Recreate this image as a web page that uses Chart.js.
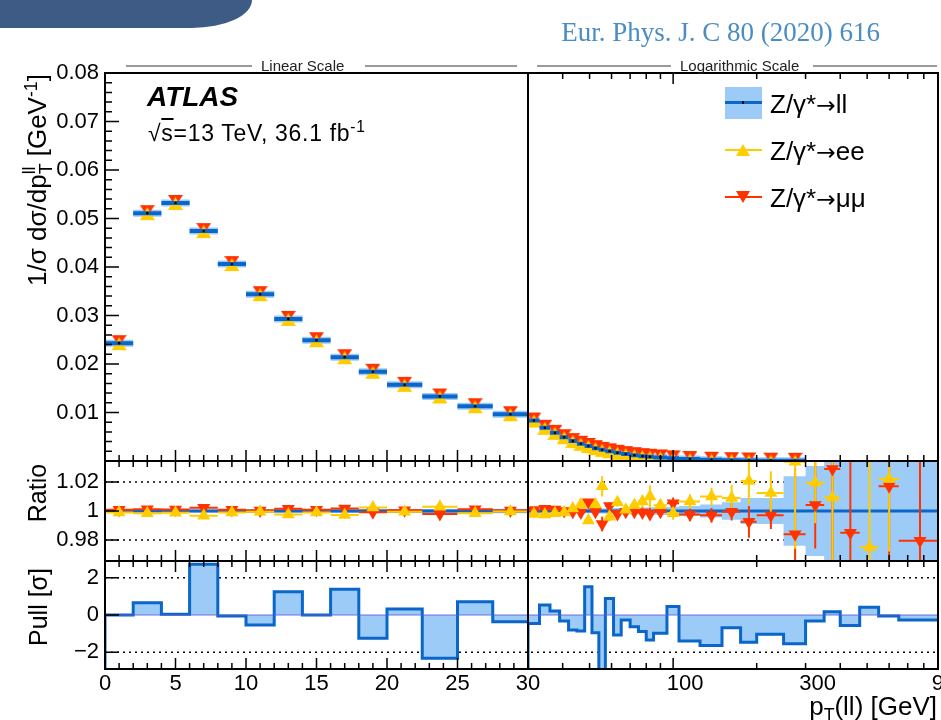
<!DOCTYPE html>
<html lang="en">
<head>
<meta charset="utf-8">
<title>Z/γ* → ll transverse momentum</title>
<script src="https://cdn.jsdelivr.net/npm/chart.js@4.4.1/dist/chart.umd.min.js"></script>
<style>
  html, body { margin: 0; padding: 0; background: #fff; }
  body { position: relative; width: 941px; height: 720px; overflow: hidden;
         font-family: "Liberation Sans", Arial, Helvetica, sans-serif; color: #000; }
  #plot { position: absolute; left: 0; top: 0; width: 941px; height: 720px; }
  .abs { position: absolute; white-space: nowrap; line-height: 1; }
  .swoosh { position: absolute; left: 0; top: 0; width: 252px; height: 28px; background: #3d5b85;
            border-bottom-right-radius: 60px 28px; }
  .journal { font-family: "Liberation Serif", "Times New Roman", serif; font-size: 27px; color: #4a8cc4;
             right: 61px; top: 19px; }
  .rule { position: absolute; top: 65px; height: 0; border-top: 2px solid #9a9a9a; }
  .tag { font-size: 15px; top: 58px; color: #222; }
  .atlas { font-weight: bold; font-style: italic; font-size: 28px; left: 147px; top: 83px; }
  .energy { font-size: 23px; letter-spacing: 0.7px; left: 148px; top: 122px; }
  .leg { font-size: 26px; left: 770px; }
  .arrow { font-family: "DejaVu Sans", sans-serif; font-size: 0.9em; }
  .vtitle { font-size: 25px; transform: translate(-50%, -50%) rotate(-90deg); }
  sup, sub { font-size: 0.68em; line-height: 0; }
  .pair { display: inline-block; vertical-align: -0.32em; font-size: 0.68em; line-height: 0.95; }
  .up { position: absolute; width: 0; height: 0; border-left: 7px solid transparent;
        border-right: 7px solid transparent; border-bottom: 12px solid #ffcc00; }
  .down { position: absolute; width: 0; height: 0; border-left: 7px solid transparent;
          border-right: 7px solid transparent; border-top: 12px solid #ff3300; }
</style>
</head>
<body>
<canvas id="plot" width="941" height="720"></canvas>

<div class="swoosh"></div>
<div class="abs journal">Eur. Phys. J. C 80 (2020) 616</div>

<div class="rule" style="left:126px; width:126px"></div>
<div class="abs tag" style="left:261px">Linear Scale</div>
<div class="rule" style="left:365px; width:152px"></div>
<div class="rule" style="left:537px; width:134px"></div>
<div class="abs tag" style="left:680px">Logarithmic Scale</div>
<div class="rule" style="left:813px; width:124px"></div>

<div class="abs atlas">ATLAS</div>
<div class="abs energy">√<span style="text-decoration: overline">s</span>=13 TeV, 36.1 fb<sup>-1</sup></div>

<!-- legend -->
<div class="abs" style="left:725px; top:87px; width:37px; height:32px; background:#9ccbf8"></div>
<div class="abs" style="left:725px; top:101px; width:37px; height:3px; background:#0a66c8"></div>
<div class="abs" style="left:742px; top:101px; width:2px; height:3px; background:#000"></div>
<div class="abs leg" style="top:91px">Z/γ*<span class="arrow">→</span>ll</div>
<div class="abs" style="left:725px; top:149px; width:37px; height:2px; background:#ffcc00"></div>
<div class="up" style="left:736px; top:144px"></div>
<div class="abs leg" style="top:138px">Z/γ*<span class="arrow">→</span>ee</div>
<div class="abs" style="left:725px; top:196px; width:37px; height:2px; background:#ff3300"></div>
<div class="down" style="left:736px; top:191px"></div>
<div class="abs leg" style="top:185px">Z/γ*<span class="arrow">→</span>μμ</div>

<!-- axis titles -->
<div class="abs vtitle" style="left:38px; top:180px; font-size:26px">1/σ dσ/dp<span class="pair">ll<br>T</span> [GeV<sup>-1</sup>]</div>
<div class="abs vtitle" style="left:37px; top:493px">Ratio</div>
<div class="abs vtitle" style="left:38px; top:607px">Pull [σ]</div>
<div class="abs" style="right:4px; top:693px; font-size:26px">p<sub>T</sub>(ll) [GeV]</div>

<script>
const FONT = '"Liberation Sans", Arial, Helvetica, sans-serif';
const BLUE = '#0a66c8', BAND = '#9ccbf8', YELLOW = '#ffcc00', RED = '#ff3300';

// p_T(ll) bin edges [GeV]: linear half and logarithmic half
const linEdges = [0, 2, 4, 6, 8, 10, 12, 14, 16, 18, 20, 22.5, 25, 27.5, 30];
const logEdges = [30, 33, 36, 39, 42, 45, 48, 51, 54, 57, 61, 65, 70, 75, 80, 85, 95, 105,
                  125, 150, 175, 200, 250, 300, 350, 400, 470, 550, 650, 900];

// 1/σ dσ/dpT(ll) [1/GeV], combined channel (log half drawn up to 300 GeV)
const xsecLin = [0.0243, 0.0511, 0.0532, 0.0474, 0.0406, 0.0344, 0.0293, 0.0249, 0.0214, 0.0184,
                 0.0157, 0.0133, 0.0113, 0.00965];
const xsecLog = [0.00835, 0.00685, 0.0058, 0.0049, 0.0041, 0.00355, 0.0031, 0.00265, 0.0023, 0.002,
                 0.0017, 0.00143, 0.0012, 0.001, 0.00088, 0.00074, 0.00055, 0.0004, 0.00026, 0.00017,
                 0.00011, 0.00007, 0.00004];

// single channel / combined
const eeRatioLin = [0.9990, 0.9985, 0.9988, 0.9968, 0.9990, 0.9995, 0.9975, 0.9990, 0.9972, 1.0025,
                    0.9995, 1.0030, 0.9985, 0.9996];
const mmRatioLin = [1.0008, 1.0012, 1.0010, 1.0022, 1.0008, 1.0003, 1.0015, 1.0008, 1.0018, 0.9992,
                    1.0005, 0.9980, 1.0012, 1.0004];
const eeErrLin = [0.0007, 0.0007, 0.0007, 0.0007, 0.0008, 0.0008, 0.0008, 0.0009, 0.0009, 0.0010,
                  0.0010, 0.0011, 0.0011, 0.0012];
const mmErrLin = [0.0006, 0.0006, 0.0006, 0.0007, 0.0007, 0.0007, 0.0008, 0.0008, 0.0008, 0.0009,
                  0.0009, 0.0010, 0.0010, 0.0011];
const eeRatioLog = [0.9980, 0.9975, 0.9985, 0.9990, 1.0018, 1.0045, 0.9935, 1.0045, 1.0170, 0.9960,
                    1.0060, 1.0008, 1.0040, 1.0065, 1.0100, 1.0040, 0.9985, 1.0066, 1.0100, 1.0090,
                    1.0207, 1.0125, 1.0340, 1.0195, 1.0094, null, 0.9750, 1.0220, null];
const mmRatioLog = [1.0007, 1.0015, 1.0010, 1.0000, 0.9995, 0.9990, 1.0060, 0.9995, 0.9910, 1.0035,
                    0.9980, 0.9995, 0.9995, 0.9990, 0.9980, 0.9995, 1.0054, 0.9976, 0.9970, 0.9995,
                    0.9925, 0.9970, 0.9840, 1.0042, 1.0290, 0.9850, null, 1.0170, 0.9795];
const eeErrLog = [0.0015, 0.0015, 0.0016, 0.0017, 0.0018, 0.0020, 0.0022, 0.0024, 0.0070, 0.0030,
                  0.0030, 0.0032, 0.0035, 0.0040, 0.0078, 0.0040, 0.0045, 0.0050, 0.0060, 0.0090,
                  0.0160, 0.0150, 0.0600, 0.0280, 0.0450, 0, 0.0600, 0.0500, 0];
const mmErrLog = [0.0012, 0.0012, 0.0013, 0.0014, 0.0015, 0.0017, 0.0019, 0.0020, 0.0050, 0.0025,
                  0.0028, 0.0030, 0.0030, 0.0035, 0.0040, 0.0035, 0.0040, 0.0045, 0.0050, 0.0060,
                  0.0110, 0.0095, 0.0450, 0.0300, 0.0700, 0.0600, 0, 0.0600, 0.0700];

// relative uncertainty of the combined result (ratio band half-width)
const bandLin = [0.0010, 0.0010, 0.0010, 0.0010, 0.0010, 0.0011, 0.0011, 0.0012, 0.0012, 0.0013,
                 0.0013, 0.0014, 0.0015, 0.0015];
const bandLog = [0.0014, 0.0014, 0.0014, 0.0015, 0.0015, 0.0016, 0.0016, 0.0017, 0.0018, 0.0019,
                 0.0020, 0.0021, 0.0022, 0.0024, 0.0026, 0.0028, 0.0030, 0.0035, 0.0045, 0.0060,
                 0.0090, 0.0090, 0.0240, 0.0310, 0.0600, 0.0600, 0.0600, 0.0600, 0.0600];

// ee vs μμ pull [σ]
const pullLin = [0.0, 0.66, 0.04, 2.73, -0.05, -0.54, 1.25, 0.0, 1.38, -1.25, 0.32, -2.32, 0.71, -0.36];
const pullLog = [-0.45, 0.54, 0.21, -0.32, -0.80, -0.86, 1.52, -0.95, -3.5, 0.89, -1.07, -0.27, -0.63,
                 -0.89, -1.34, -0.98, 0.45, -1.39, -1.64, -0.68, -1.46, -1.04, -1.55, -0.32, 0.18,
                 -0.57, 0.41, -0.05, -0.27];

// axis ranges and tick labels
const mainRange = [0, 0.08], ratioRange = [0.9655, 1.0345], pullRange = [-2.9, 2.9];
const mainTicks = [0.01, 0.02, 0.03, 0.04, 0.05, 0.06, 0.07, 0.08];
const ratioTicks = [0.98, 1, 1.02];
const pullTicks = [-2, 0, 2];
const linTicks = [0, 5, 10, 15, 20, 25, 30];
const logTicks = [100, 300, 900];
const ratioGuides = [0.98, 1.02], pullGuides = [-2, 2];

const steps = (a, b, d) => { const o = []; for (let v = a; v <= b + 1e-9; v += d) o.push(+v.toFixed(6)); return o; };
const mainMinor = steps(0.002, 0.08, 0.002);
const linMinor = steps(1, 29, 1);
const logMajor = [100];
const logMinor = [40, 50, 60, 70, 80, 90, 200, 300, 400, 500, 600, 700, 800];

// ---- helpers turning bins into point lists ----
function centres(edges, vals) {
  return vals.map((v, i) => ({ x: (edges[i] + edges[i + 1]) / 2, y: v })).filter(p => p.y != null);
}
function binLines(edges, vals) {            // horizontal line across each bin
  const pts = [];
  vals.forEach((v, i) => {
    if (v == null) return;
    pts.push({ x: edges[i], y: v }, { x: edges[i + 1], y: v }, { x: edges[i + 1], y: null });
  });
  return pts;
}
function errLines(edges, vals, errs) {      // vertical error bars at bin centres
  const pts = [];
  vals.forEach((v, i) => {
    if (v == null) return;
    const c = (edges[i] + edges[i + 1]) / 2;
    pts.push({ x: c, y: v - errs[i] }, { x: c, y: v + errs[i] }, { x: c, y: null });
  });
  return pts;
}
function outline(edges, vals, floor) {      // histogram outline with explicit corners
  const pts = floor == null ? [] : [{ x: edges[0], y: floor }];
  vals.forEach((v, i) => pts.push({ x: edges[i], y: v }, { x: edges[i + 1], y: v }));
  return pts;
}

// marker stamps: point sits between -top and +bottom pixels of the triangle
function stamp(color, dir, top, bottom) {
  const w = 15, h = 2 * Math.max(top, bottom) + 2;
  const c = document.createElement('canvas');
  c.width = w; c.height = h;
  const g = c.getContext('2d');
  const m = h / 2;
  g.fillStyle = color;
  g.beginPath();
  if (dir === 'up') { g.moveTo(w / 2, m - top); g.lineTo(w, m + bottom); g.lineTo(0, m + bottom); }
  else { g.moveTo(0, m - top); g.lineTo(w, m - top); g.lineTo(w / 2, m + bottom); }
  g.closePath();
  g.fill();
  return c;
}
const muMark = stamp(RED, 'down', 8, 3);
const eeMark = stamp(YELLOW, 'up', 6, 7);

function line(x, y, data, color, width, order, extra) {
  return Object.assign({ type: 'line', xAxisID: x, yAxisID: y, data, borderColor: color,
    borderWidth: width, pointRadius: 0, pointHoverRadius: 0, fill: false, spanGaps: false, order }, extra || {});
}
function marks(x, y, data, style, color, order, extra) {
  return Object.assign({ type: 'scatter', xAxisID: x, yAxisID: y, data, pointStyle: style,
    pointRadius: 6, pointHoverRadius: 6, pointBackgroundColor: color, pointBorderColor: color,
    pointBorderWidth: 0, order }, extra || {});
}

const halves = [
  { x: 'xlin', edges: linEdges, xsec: xsecLin, ee: eeRatioLin, mm: mmRatioLin, eeErr: eeErrLin,
    mmErr: mmErrLin, band: bandLin, pull: pullLin },
  { x: 'xlog', edges: logEdges, xsec: xsecLog, ee: eeRatioLog, mm: mmRatioLog, eeErr: eeErrLog,
    mmErr: mmErrLog, band: bandLog, pull: pullLog }
];

const datasets = [];
halves.forEach(h => {
  const E = h.edges;
  // main panel
  datasets.push(line(h.x, 'ymain', binLines(E, h.xsec), BAND, 7, 9));
  datasets.push(marks(h.x, 'ymain', centres(E, h.xsec), muMark, RED, 8));
  datasets.push(marks(h.x, 'ymain', centres(E, h.xsec), eeMark, YELLOW, 7));
  datasets.push(line(h.x, 'ymain', binLines(E, h.xsec), BLUE, 4, 6));
  datasets.push(marks(h.x, 'ymain', centres(E, h.xsec), 'circle', '#000', 5, { pointRadius: 1.3 }));
  // ratio panel
  datasets.push(line(h.x, 'yratio', outline(E, h.band.map(b => 1 + b)), BAND, 0, 20,
    { fill: { value: 1 }, backgroundColor: BAND }));
  datasets.push(line(h.x, 'yratio', outline(E, h.band.map(b => 1 - b)), BAND, 0, 20,
    { fill: { value: 1 }, backgroundColor: BAND }));
  datasets.push(line(h.x, 'yratio', [{ x: E[0], y: 1 }, { x: E[E.length - 1], y: 1 }], BLUE, 3, 19));
  datasets.push(line(h.x, 'yratio', binLines(E, h.mm), RED, 2, 18));
  datasets.push(line(h.x, 'yratio', errLines(E, h.mm, h.mmErr), RED, 2, 18));
  datasets.push(line(h.x, 'yratio', binLines(E, h.ee), YELLOW, 2, 17));
  datasets.push(line(h.x, 'yratio', errLines(E, h.ee, h.eeErr), YELLOW, 2, 17));
  datasets.push(marks(h.x, 'yratio', centres(E, h.mm), 'triangle', RED, 16,
    { pointRadius: 7.5, pointRotation: 180 }));
  datasets.push(marks(h.x, 'yratio', centres(E, h.ee), 'triangle', YELLOW, 15, { pointRadius: 7.5 }));
  // pull panel
  datasets.push(line(h.x, 'ypull', outline(E, h.pull, pullRange[0]), BLUE, 3, 12,
    { fill: { value: 0 }, backgroundColor: BAND }));
  datasets.push(line(h.x, 'ypull', [{ x: E[0], y: 0 }, { x: E[E.length - 1], y: 0 }],
    'rgba(90, 90, 220, 0.85)', 1, 11));
});

// inward ROOT-style ticks, frames and dotted guides
function tickRow(ctx, xs, y, vals, len, dir) {
  vals.forEach(v => { const x = xs.getPixelForValue(v); ctx.moveTo(x, y); ctx.lineTo(x, y + dir * len); });
}
const rootFrame = {
  id: 'rootFrame',
  beforeDatasetsDraw(chart) {
    const { ctx, chartArea, scales } = chart;
    ctx.save();
    ctx.strokeStyle = '#000';
    ctx.lineWidth = 1.5;
    ctx.setLineDash([2, 4]);
    ctx.beginPath();
    [['yratio', ratioGuides], ['ypull', pullGuides]].forEach(([id, vals]) => {
      vals.forEach(v => {
        const y = scales[id].getPixelForValue(v);
        ctx.moveTo(chartArea.left, y); ctx.lineTo(chartArea.right, y);
      });
    });
    ctx.stroke();
    ctx.restore();
  },
  afterDatasetsDraw(chart) {
    const { ctx, chartArea, scales } = chart;
    ctx.save();
    ctx.strokeStyle = '#000';
    ctx.lineWidth = 1.5;
    ctx.beginPath();
    ['ymain', 'yratio', 'ypull'].forEach(yid => {
      const ys = scales[yid];
      [['xlin', linTicks, linMinor], ['xlog', logMajor, logMinor]].forEach(([xid, major, minor]) => {
        const xs = scales[xid];
        tickRow(ctx, xs, ys.bottom, major, 11, -1);
        tickRow(ctx, xs, ys.bottom, minor, 6, -1);
        if (yid !== 'ymain' || xid === 'xlog') {
          tickRow(ctx, xs, ys.top, major, 11, 1);
          tickRow(ctx, xs, ys.top, minor, 6, 1);
        }
      });
    });
    [['ymain', mainTicks, mainMinor], ['yratio', ratioTicks, []], ['ypull', pullTicks, []]]
      .forEach(([yid, major, minor]) => {
        const ys = scales[yid], x0 = chartArea.left;
        major.forEach(v => { const y = ys.getPixelForValue(v); ctx.moveTo(x0, y); ctx.lineTo(x0 + 14, y); });
        minor.forEach(v => { const y = ys.getPixelForValue(v); ctx.moveTo(x0, y); ctx.lineTo(x0 + 7, y); });
      });
    ctx.stroke();
    ctx.lineWidth = 2;
    ctx.strokeRect(chartArea.left, chartArea.top, chartArea.width, chartArea.height);
    ctx.beginPath();
    const xd = scales.xlin.right;
    ctx.moveTo(xd, chartArea.top); ctx.lineTo(xd, chartArea.bottom);
    [scales.ymain.bottom, scales.yratio.bottom].forEach(y => {
      ctx.moveTo(chartArea.left, y); ctx.lineTo(chartArea.right, y);
    });
    ctx.stroke();
    ctx.restore();
  }
};

const tickFont = { family: FONT, size: 22 };
function yAxis(weight, stackWeight, range, vals, fmt) {
  return {
    type: 'linear', position: 'left', stack: 'panels', stackWeight, weight,
    min: range[0], max: range[1],
    afterBuildTicks: s => { s.ticks = vals.map(v => ({ value: v })); },
    afterFit: s => { s.width = 105; s.paddingTop = 0; s.paddingBottom = 0; },
    grid: { display: false, drawTicks: false }, border: { display: false },
    ticks: { font: tickFont, color: '#000', padding: 6, autoSkip: false, callback: fmt }
  };
}
function xAxis(type, weight, stackWeight, range, vals, labelOffset) {
  return {
    type, position: 'bottom', stack: 'halves', stackWeight, weight,
    min: range[0], max: range[1],
    afterBuildTicks: s => { s.ticks = vals.map(v => ({ value: v })); },
    afterFit: s => { s.height = 51; s.paddingLeft = 0; s.paddingRight = 0; },
    grid: { display: false, drawTicks: false }, border: { display: false },
    ticks: { font: tickFont, color: '#000', padding: 2, autoSkip: false, maxRotation: 0, minRotation: 0,
             labelOffset, callback: v => String(v) }
  };
}

new Chart(document.getElementById('plot'), {
  type: 'line',
  data: { datasets },
  options: {
    responsive: false,
    animation: false,
    devicePixelRatio: 1,
    events: [],
    layout: { autoPadding: false, padding: { top: 73, right: 3, bottom: 0, left: 0 } },
    plugins: { legend: { display: false }, tooltip: { enabled: false } },
    scales: {
      ymain: yAxis(3, 388, mainRange, mainTicks, v => v.toFixed(2)),
      yratio: yAxis(2, 100, ratioRange, ratioTicks, v => (v === 1 ? '1' : v.toFixed(2))),
      ypull: yAxis(1, 108, pullRange, pullTicks, v => (v < 0 ? '\u2212' + Math.abs(v) : String(v))),
      xlin: xAxis('linear', 0, 423, [0, 30], linTicks, 0),
      xlog: xAxis('logarithmic', 1, 410, [30, 900], logTicks, 12)
    }
  },
  plugins: [rootFrame]
});
</script>
</body>
</html>
